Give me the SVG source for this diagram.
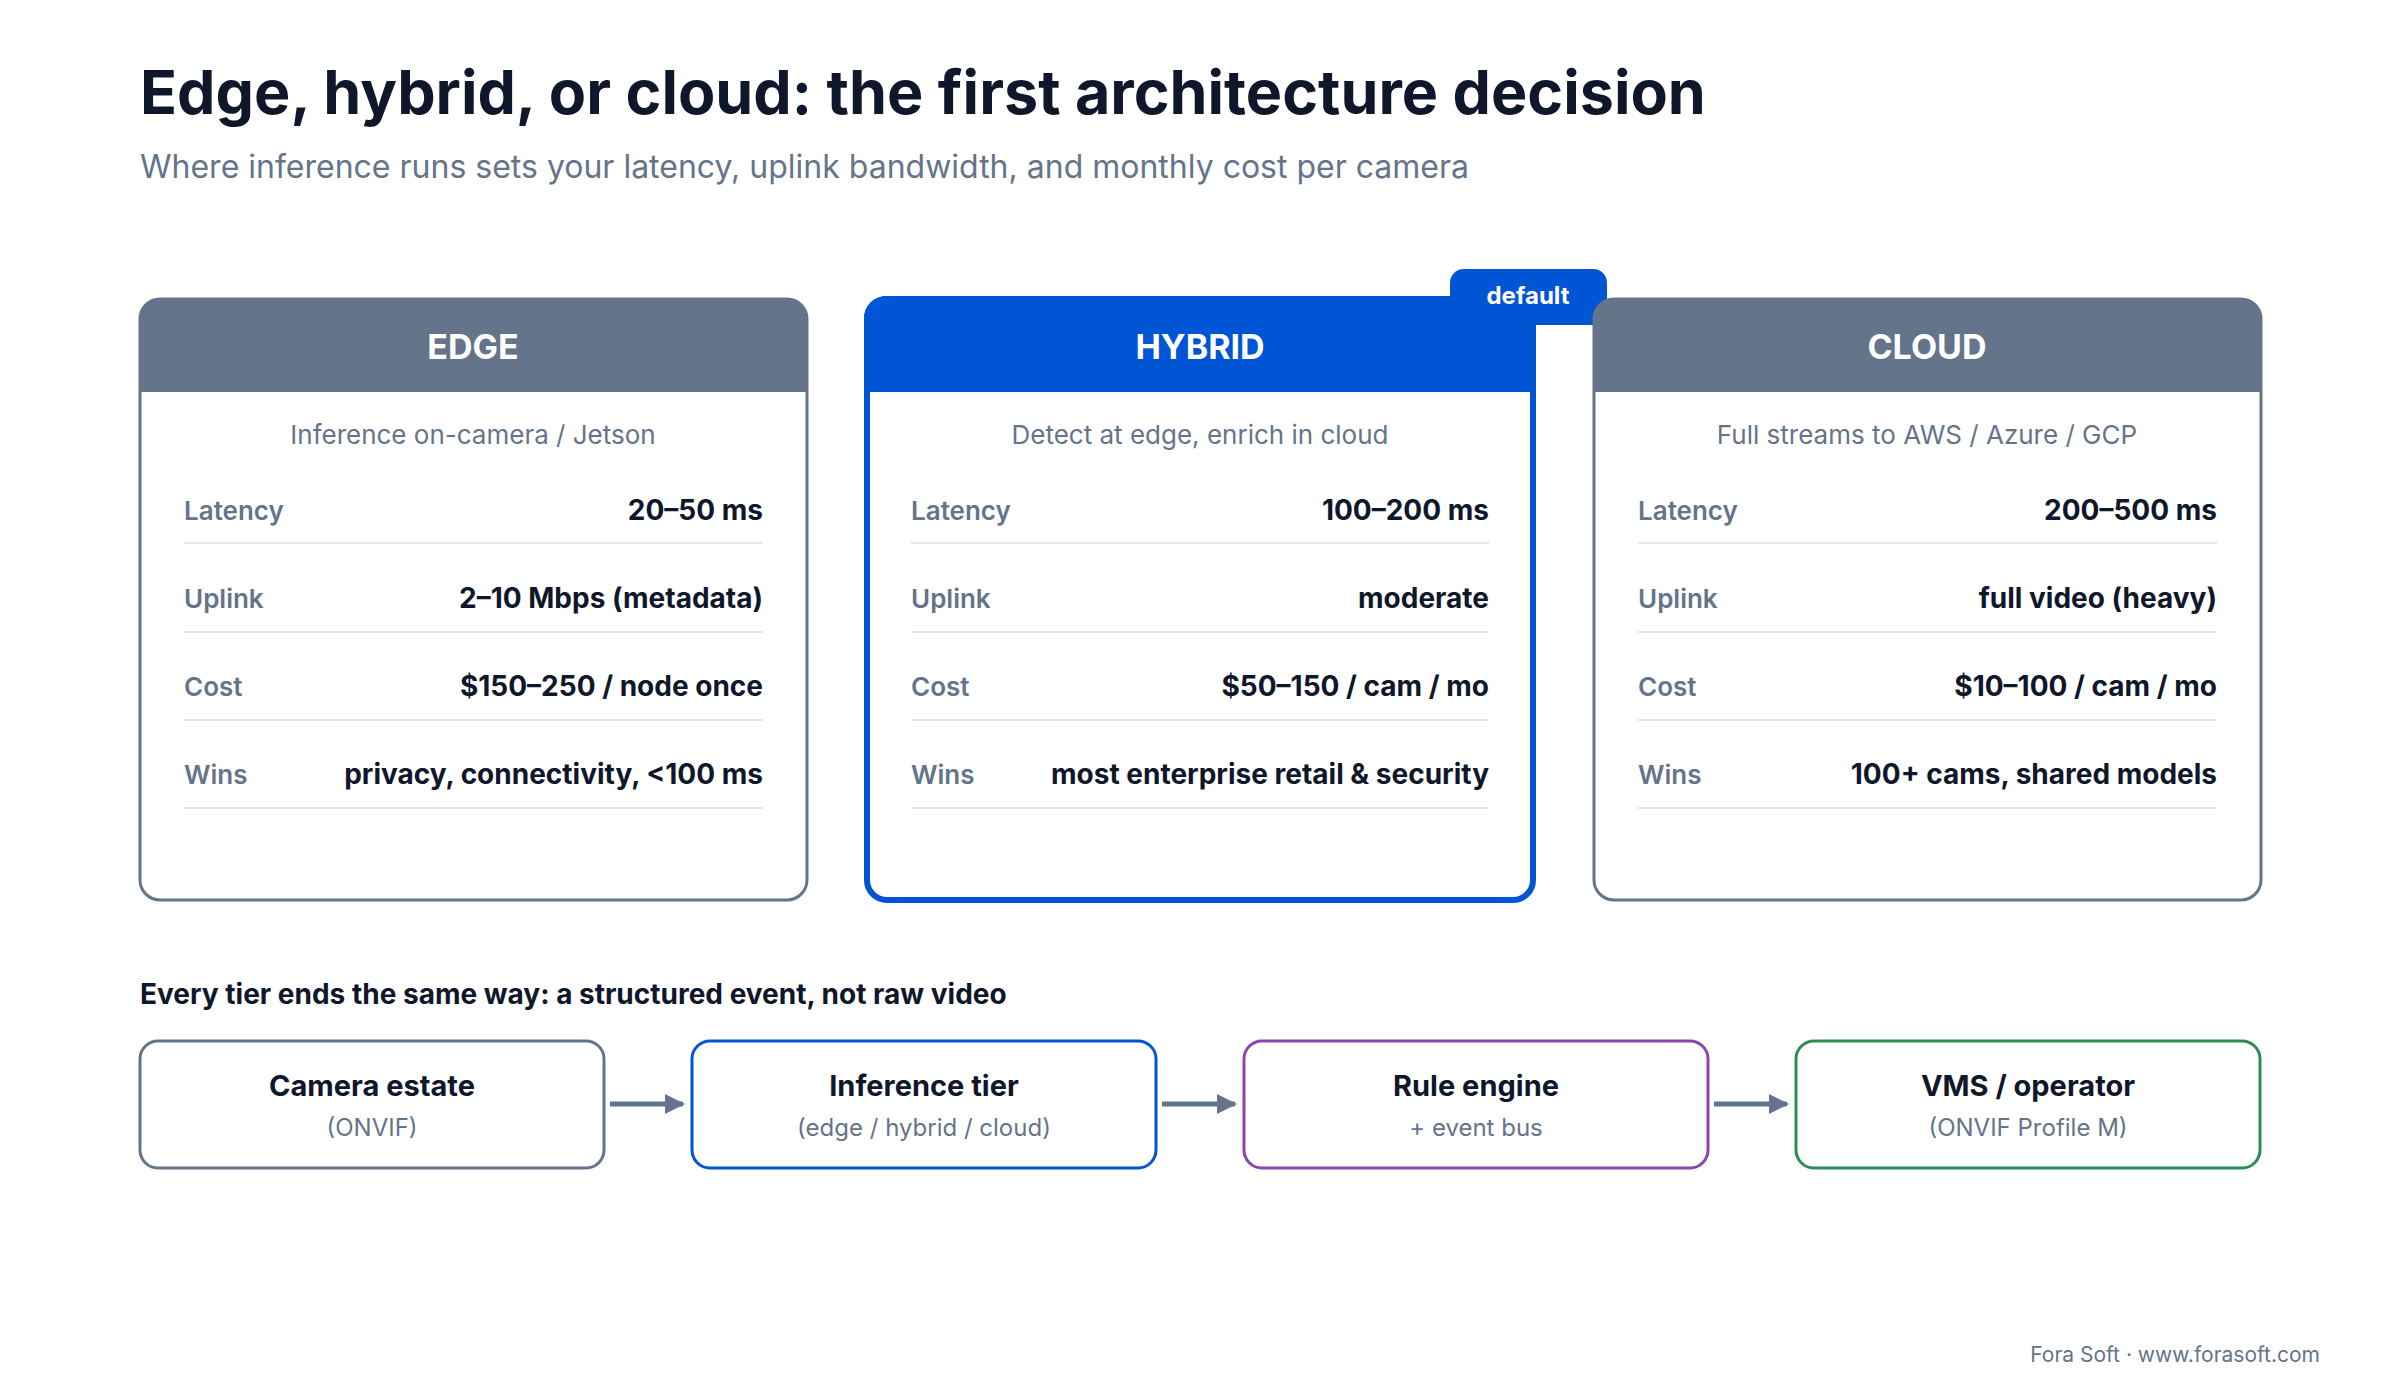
<svg xmlns="http://www.w3.org/2000/svg" width="2400" height="1400" viewBox="0 0 2400 1400">
<style>
text{font-family:Inter,"Noto Sans","Liberation Sans",sans-serif}
.card{fill:#fff;stroke:#64748b;stroke-width:3}
.hd{fill:#fff;font-size:34px;font-weight:700;text-anchor:middle}
.sub{fill:#64748b;font-size:26px;text-anchor:middle}
.lb{fill:#64748b;font-size:26px;font-weight:600}
.vl{fill:#0f172a;font-size:28px;font-weight:700;text-anchor:end}
.ln{stroke:#e2e8f0;stroke-width:2}
.ft{fill:#0f172a;font-size:29px;font-weight:700;text-anchor:middle}
.fs{fill:#64748b;font-size:24px;text-anchor:middle}
.fb{fill:#fff;stroke-width:3}
</style>
<defs><marker id="ah" viewBox="0 0 10 10" refX="9" refY="5" markerWidth="4" markerHeight="4" orient="auto"><path d="M0,0L10,5L0,10z" fill="#64748b"/></marker></defs>
<rect width="2400" height="1400" fill="#fff"/>
<text x="140" y="114" font-size="61" font-weight="700" fill="#0f172a">Edge, hybrid, or cloud: the first architecture decision</text>
<text x="140" y="178" font-size="32" fill="#64748b">Where inference runs sets your latency, uplink bandwidth, and monthly cost per camera</text>

<g id="edge">
<rect class="card" x="140" y="299" width="667" height="601" rx="20"/>
<path d="M140,392V319a20,20 0 0 1 20,-20H787a20,20 0 0 1 20,20V392z" fill="#64748b"/>
<text class="hd" x="473" y="359">EDGE</text>
<text class="sub" x="473" y="444">Inference on-camera / Jetson</text>
<text class="lb" x="184" y="520">Latency</text><text class="vl" x="763" y="520">20–50 ms</text><line class="ln" x1="184" y1="543" x2="763" y2="543"/>
<text class="lb" x="184" y="608">Uplink</text><text class="vl" x="763" y="608">2–10 Mbps (metadata)</text><line class="ln" x1="184" y1="632" x2="763" y2="632"/>
<text class="lb" x="184" y="696">Cost</text><text class="vl" x="763" y="696">$150–250 / node once</text><line class="ln" x1="184" y1="720" x2="763" y2="720"/>
<text class="lb" x="184" y="784">Wins</text><text class="vl" x="763" y="784">privacy, connectivity, &lt;100 ms</text><line class="ln" x1="184" y1="808" x2="763" y2="808"/>
</g>

<g id="hybrid">
<rect x="1450" y="269" width="157" height="56" rx="14" fill="#0055d4"/>
<rect x="867" y="299" width="666" height="601" rx="20" fill="#fff" stroke="#0055d4" stroke-width="6"/>
<path d="M864,392V318a22,22 0 0 1 22,-22H1536V392z" fill="#0055d4"/>
<text x="1528" y="304" font-size="24" font-weight="700" fill="#fff" text-anchor="middle">default</text>
<text class="hd" x="1200" y="359">HYBRID</text>
<text class="sub" x="1200" y="444">Detect at edge, enrich in cloud</text>
<text class="lb" x="911" y="520">Latency</text><text class="vl" x="1489" y="520">100–200 ms</text><line class="ln" x1="911" y1="543" x2="1489" y2="543"/>
<text class="lb" x="911" y="608">Uplink</text><text class="vl" x="1489" y="608">moderate</text><line class="ln" x1="911" y1="632" x2="1489" y2="632"/>
<text class="lb" x="911" y="696">Cost</text><text class="vl" x="1489" y="696">$50–150 / cam / mo</text><line class="ln" x1="911" y1="720" x2="1489" y2="720"/>
<text class="lb" x="911" y="784">Wins</text><text class="vl" x="1489" y="784">most enterprise retail &amp; security</text><line class="ln" x1="911" y1="808" x2="1489" y2="808"/>
</g>

<g id="cloud">
<rect class="card" x="1594" y="299" width="667" height="601" rx="20"/>
<path d="M1594,392V319a20,20 0 0 1 20,-20H2241a20,20 0 0 1 20,20V392z" fill="#64748b"/>
<text class="hd" x="1927" y="359">CLOUD</text>
<text class="sub" x="1927" y="444">Full streams to AWS / Azure / GCP</text>
<text class="lb" x="1638" y="520">Latency</text><text class="vl" x="2217" y="520">200–500 ms</text><line class="ln" x1="1638" y1="543" x2="2217" y2="543"/>
<text class="lb" x="1638" y="608">Uplink</text><text class="vl" x="2217" y="608">full video (heavy)</text><line class="ln" x1="1638" y1="632" x2="2217" y2="632"/>
<text class="lb" x="1638" y="696">Cost</text><text class="vl" x="2217" y="696">$10–100 / cam / mo</text><line class="ln" x1="1638" y1="720" x2="2217" y2="720"/>
<text class="lb" x="1638" y="784">Wins</text><text class="vl" x="2217" y="784">100+ cams, shared models</text><line class="ln" x1="1638" y1="808" x2="2217" y2="808"/>
</g>

<text x="140" y="1004" font-size="28" font-weight="700" fill="#0f172a">Every tier ends the same way: a structured event, not raw video</text>

<g id="camera"><rect class="fb" x="140" y="1041" width="464" height="127" rx="18" stroke="#64748b"/>
<text class="ft" x="372" y="1096">Camera estate</text><text class="fs" x="372" y="1136">(ONVIF)</text></g>
<g id="inference"><rect class="fb" x="692" y="1041" width="464" height="127" rx="18" stroke="#0055d4"/>
<text class="ft" x="924" y="1096">Inference tier</text><text class="fs" x="924" y="1136">(edge / hybrid / cloud)</text></g>
<g id="rule"><rect class="fb" x="1244" y="1041" width="464" height="127" rx="18" stroke="#8e44ad"/>
<text class="ft" x="1476" y="1096">Rule engine</text><text class="fs" x="1476" y="1136">+ event bus</text></g>
<g id="vms"><rect class="fb" x="1796" y="1041" width="464" height="127" rx="18" stroke="#2e8b57"/>
<text class="ft" x="2028" y="1096">VMS / operator</text><text class="fs" x="2028" y="1136">(ONVIF Profile M)</text></g>

<g id="connectors" stroke="#64748b" stroke-width="5" fill="none" marker-end="url(#ah)">
<line x1="610" y1="1104" x2="683" y2="1104"/>
<line x1="1162" y1="1104" x2="1235" y2="1104"/>
<line x1="1714" y1="1104" x2="1787" y2="1104"/>
</g>

<text x="2320" y="1362" font-size="21" fill="#64748b" text-anchor="end">Fora Soft · www.forasoft.com</text>
</svg>
